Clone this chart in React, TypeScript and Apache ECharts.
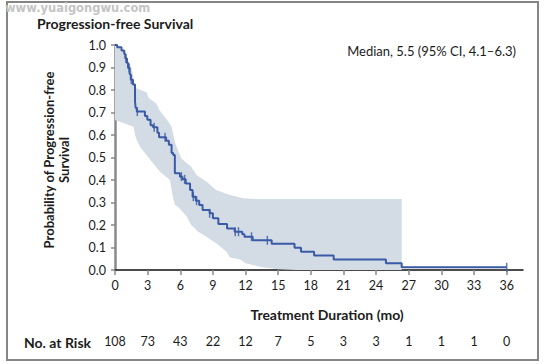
import React, { useEffect, useRef } from "react";
import * as echarts from "echarts";

// Kaplan-Meier step curve (months, probability)
const kmTime = [0, 0.2, 0.6, 0.85, 0.95, 1.1, 1.2, 1.35, 1.45, 1.65, 1.84, 1.9, 2.0, 2.75, 2.97, 3.27, 3.5, 3.9, 4.05, 4.7, 4.95, 5.2, 5.35, 5.5, 5.97, 6.2, 6.5, 6.9, 7.13, 7.43, 7.74, 8.05, 8.7, 9.0, 9.5, 10.3, 11.0, 11.7, 11.9, 12.65, 14.4, 16.5, 17.1, 18.3, 20.1, 24.9, 26.35, 36];
const kmSurv = [1.0, 0.99, 0.976, 0.96, 0.94, 0.92, 0.898, 0.87, 0.846, 0.824, 0.75, 0.72, 0.704, 0.685, 0.668, 0.643, 0.635, 0.61, 0.59, 0.575, 0.557, 0.52, 0.511, 0.43, 0.415, 0.403, 0.385, 0.356, 0.326, 0.308, 0.289, 0.267, 0.252, 0.23, 0.205, 0.185, 0.17, 0.159, 0.148, 0.132, 0.117, 0.099, 0.081, 0.064, 0.047, 0.03, 0.012, 0.012];

// Censored observations (months)
const censorTimes = [1.0, 1.3, 1.5, 2.05, 3.6, 4.6, 6.1, 6.4, 7.2, 7.5, 8.7, 11.05, 11.35, 12.55, 14.0, 36];

// 95% confidence band
const upperTime = [0, 0.95, 1.1, 1.3, 1.5, 1.75, 1.85, 2.9, 3.1, 3.8, 4.07, 4.9, 5.2, 5.5, 5.66, 6.1, 7.0, 7.5, 8.4, 9.3, 10.56, 11.8, 13.0, 26.35];
const upperVal = [1.0, 0.97, 0.94, 0.92, 0.9, 0.84, 0.81, 0.79, 0.765, 0.74, 0.711, 0.66, 0.637, 0.57, 0.548, 0.496, 0.459, 0.422, 0.393, 0.356, 0.333, 0.319, 0.316, 0.316];
const lowerTime = [0, 1.7, 1.84, 2.0, 2.3, 3.0, 4.13, 5.05, 5.3, 5.5, 5.8, 6.6, 7.0, 7.65, 8.4, 9.3, 10.25, 10.56, 11.5, 12.0, 13.3, 15.0, 16.7, 26.35];
const lowerVal = [0.667, 0.637, 0.6, 0.578, 0.548, 0.504, 0.437, 0.4, 0.33, 0.289, 0.281, 0.237, 0.2, 0.17, 0.148, 0.119, 0.081, 0.056, 0.047, 0.03, 0.015, 0.003, 0, 0];

// Axis ticks and risk table
const xTicks = [0, 3, 6, 9, 12, 15, 18, 21, 24, 27, 30, 33, 36];
const atRisk = [108, 73, 43, 22, 12, 7, 5, 3, 3, 1, 1, 1, 0];

const FONT = "Lato, 'Open Sans', sans-serif";
const TEXT = "#1c1c1c";
const BLUE = "#3a5aa6";
const BAND = "#d3dce4";

function survAt(t: number): number {
  let s = kmSurv[0];
  for (let i = 0; i < kmTime.length; i++) {
    if (kmTime[i] <= t) s = kmSurv[i];
  }
  return s;
}

export default function App() {
  const ref = useRef<HTMLDivElement>(null);
  useEffect(() => {
    if (!ref.current) return;
    const chart = echarts.init(ref.current, undefined, { renderer: "svg" });
    const kmData = kmTime.map((t, i) => [t, kmSurv[i]]);
    const censorData = censorTimes.map((t) => [t, survAt(t)]);
    chart.setOption({
      animation: false,
      grid: { left: 115, right: 22, top: 45, bottom: 94, containLabel: false },
      xAxis: [
        {
          type: "value",
          min: 0,
          max: 37.5,
          interval: 3,
          splitLine: { show: false },
          axisLine: { show: true, lineStyle: { color: "#111", width: 1.5 } },
          axisTick: { show: true, length: 5, lineStyle: { color: "#888", width: 1.5 }, customValues: xTicks },
          axisLabel: {
            customValues: xTicks,
            margin: 9,
            fontFamily: FONT,
            fontSize: 12.5,
            color: TEXT,
          },
        },
        {
          type: "value",
          min: 0,
          max: 37.5,
          interval: 3,
          position: "bottom",
          offset: 56,
          splitLine: { show: false },
          axisLine: { show: false },
          axisTick: { show: false },
          axisLabel: {
            customValues: xTicks,
            margin: 9,
            fontFamily: FONT,
            fontSize: 12.5,
            color: TEXT,
            formatter: (v: number) => {
              const i = xTicks.indexOf(Math.round(v));
              return i >= 0 ? String(atRisk[i]) : "";
            },
          },
        },
      ],
      yAxis: {
        type: "value",
        min: 0,
        max: 1,
        interval: 0.1,
        splitLine: { show: false },
        axisLine: { show: true, lineStyle: { color: "#8a8a8a", width: 2.5 } },
        axisTick: { show: true, length: 4, lineStyle: { color: "#8a8a8a", width: 1.5 } },
        axisLabel: {
          margin: 9,
          fontFamily: FONT,
          fontSize: 12.5,
          color: TEXT,
          formatter: (v: number) => v.toFixed(1),
        },
      },
      series: [
        {
          type: "custom",
          coordinateSystem: "cartesian2d",
          xAxisIndex: 0,
          z: 1,
          silent: true,
          data: [[0, 0]],
          renderItem: (_params: any, api: any) => {
            const pts: number[][] = [];
            upperTime.forEach((t, i) => pts.push(api.coord([t, upperVal[i]])));
            for (let i = lowerTime.length - 1; i >= 0; i--) {
              pts.push(api.coord([lowerTime[i], lowerVal[i]]));
            }
            return { type: "polygon", shape: { points: pts }, style: { fill: BAND } };
          },
        },
        {
          type: "line",
          xAxisIndex: 0,
          step: "end",
          z: 3,
          symbol: "none",
          data: kmData,
          lineStyle: { color: BLUE, width: 2 },
        },
        {
          type: "scatter",
          xAxisIndex: 0,
          z: 4,
          symbol: "rect",
          symbolSize: [1.5, 9],
          itemStyle: { color: BLUE },
          data: censorData,
        },
      ],
      graphic: [
        {
          type: "rect",
          shape: { x: 7, y: 2, width: 531, height: 358 },
          style: { fill: "none", stroke: "#858585", lineWidth: 2 },
          silent: true,
        },
        {
          type: "text",
          x: 5,
          y: 8,
          style: {
            text: "www.yuaigongwu.com",
            fontFamily: "'DejaVu Sans', sans-serif",
            fontWeight: "bold",
            fontSize: 11.5,
            fill: "#c4c4c4",
            verticalAlign: "middle",
          },
        },
        {
          type: "text",
          x: 37,
          y: 23,
          style: {
            text: "Progression-free Survival",
            fontFamily: FONT,
            fontWeight: "bold",
            fontSize: 14,
            fill: TEXT,
            verticalAlign: "middle",
          },
        },
        {
          type: "text",
          x: 516,
          y: 51,
          style: {
            text: "Median, 5.5 (95% CI, 4.1\u20136.3)",
            fontFamily: FONT,
            fontSize: 13,
            fill: TEXT,
            align: "right",
            verticalAlign: "middle",
          },
        },
        {
          type: "text",
          x: 56,
          y: 160,
          rotation: Math.PI / 2,
          style: {
            text: "Probability of Progression-free\nSurvival",
            fontFamily: FONT,
            fontWeight: "bold",
            fontSize: 13,
            lineHeight: 15,
            fill: TEXT,
            align: "center",
            verticalAlign: "middle",
          },
        },
        {
          type: "text",
          x: 327,
          y: 314,
          style: {
            text: "Treatment Duration (mo)",
            fontFamily: FONT,
            fontWeight: "bold",
            fontSize: 14,
            fill: TEXT,
            align: "center",
            verticalAlign: "middle",
          },
        },
        {
          type: "text",
          x: 24,
          y: 342,
          style: {
            text: "No. at Risk",
            fontFamily: FONT,
            fontWeight: "bold",
            fontSize: 14,
            fill: TEXT,
            verticalAlign: "middle",
          },
        },
      ],
    });
    return () => chart.dispose();
  }, []);
  return (
    <div
      ref={ref}
      style={{ position: "fixed", left: 0, top: 0, width: 545, height: 364, background: "#fff" }}
    />
  );
}
